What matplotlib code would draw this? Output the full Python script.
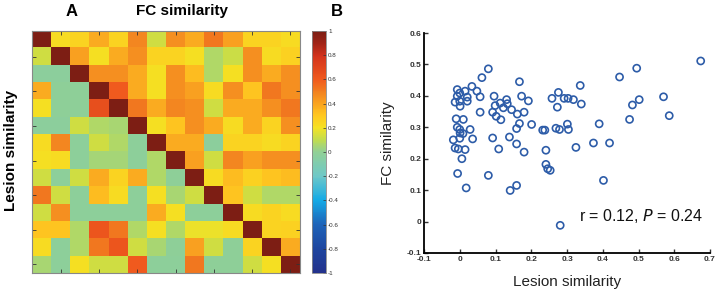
import numpy as np
import matplotlib
matplotlib.use("Agg")
import matplotlib.pyplot as plt
from matplotlib.colors import LinearSegmentedColormap

plt.rcParams["font.family"] = ["Liberation Sans", "DejaVu Sans"]

# Panel A: FC similarity / lesion similarity matrix (14 patients)
fc_matrix = [
    [1.00, .22, .25, .38, .25, .48, .13, .46, .38, .52, .41, .25, .25, .22],
    [.13, 1.00, .41, .21, .38, .46, .25, .25, .21, .07, .12, .46, .22, .26],
    [-.03, -.03, 1.00, .46, .46, .38, .21, .46, .33, .07, .21, .46, .38, .46],
    [.38, -.01, -.01, 1.00, .60, .38, .21, .46, .41, .22, .46, .31, .52, .46],
    [.21, -.01, -.01, .65, 1.00, .52, .38, .48, .46, .13, .38, .38, .46, .52],
    [-.03, -.03, .13, .07, .05, 1.00, .21, .31, .46, .38, .22, .38, .25, .46],
    [.22, .48, -.02, .13, .07, -.02, 1.00, .38, .38, -.03, .25, .25, .22, .25],
    [.21, .22, -.02, .04, .04, -.02, .07, 1.00, .41, .13, .48, .41, .46, .46],
    [.13, -.02, .13, .38, .25, .38, .07, -.01, 1.00, .22, .33, .26, .31, .33],
    [.52, .13, -.02, .33, .22, -.02, .21, .05, .13, 1.00, .31, .13, .07, .07],
    [.13, .46, -.02, -.02, -.02, -.02, .38, .21, -.02, -.02, 1.00, .22, .25, .22],
    [.31, .31, .07, .62, .52, .07, .21, .07, .18, .18, .22, 1.00, .25, .26],
    [.22, -.02, .07, .52, .62, .13, .05, -.01, .41, .13, -.01, .25, 1.00, .38],
    [.05, -.02, .21, .13, .13, .60, -.02, -.02, .52, -.01, -.01, .13, .21, 1.00],
]
cbar_ticks = [1, 0.8, 0.6, 0.4, 0.2, 0, -0.2, -0.4, -0.6, -0.8, -1]
cbar_labels = ["1", "0.8", "0.6", "0.4", "0.2", "0", "-0.2", "-0.4", "-0.6", "-0.8", "-1"]

# Panel B: lesion similarity vs FC similarity
lesion_sim = [
    -0.007, 0.015, 0.000, -0.007, 0.021, -0.013, 0.000, 0.021, 0.001, 0.034,
    0.048, 0.057, 0.062, 0.080, 0.057, -0.010, 0.010, -0.007, 0.000, 0.029,
    0.001, 0.009, -0.018, 0.000, 0.036, -0.013, -0.004, 0.015, 0.006, -0.006,
    0.018,
    0.096, 0.099, 0.092, 0.102, 0.115, 0.092, 0.109, 0.080, 0.113, 0.131,
    0.133, 0.122, 0.145, 0.167, 0.173, 0.192, 0.180, 0.161, 0.167, 0.159,
    0.139, 0.201, 0.159, 0.180, 0.159, 0.141,
    0.232, 0.238, 0.241, 0.241, 0.246, 0.253, 0.258, 0.276, 0.292, 0.303,
    0.318, 0.273, 0.269, 0.279, 0.301, 0.304, 0.337, 0.340, 0.325, 0.281,
    0.374, 0.390, 0.419, 0.402, 0.447, 0.475, 0.483, 0.495, 0.502, 0.570,
    0.586, 0.674,
]
fc_sim = [
    0.420, 0.415, 0.409, 0.399, 0.396, 0.380, 0.383, 0.383, 0.367, 0.430,
    0.415, 0.397, 0.458, 0.486, 0.348, 0.327, 0.325, 0.300, 0.293, 0.293,
    0.282, 0.280, 0.260, 0.265, 0.263, 0.234, 0.231, 0.229, 0.200, 0.153,
    0.107,
    0.399, 0.369, 0.348, 0.335, 0.324, 0.266, 0.231, 0.147, 0.377, 0.388,
    0.375, 0.362, 0.356, 0.445, 0.399, 0.384, 0.348, 0.342, 0.312, 0.296,
    0.269, 0.309, 0.247, 0.221, 0.115, 0.099,
    0.291, 0.291, 0.227, 0.182, 0.168, 0.163, 0.392, 0.411, 0.392, 0.392,
    0.388, 0.364, 0.297, 0.293, 0.310, 0.293, 0.433, 0.374, 0.236, -0.012,
    0.250, 0.311, 0.250, 0.131, 0.460, 0.325, 0.371, 0.488, 0.388, 0.397,
    0.337, 0.511,
]

# jet-like colormap as printed (somewhat washed out), sampled from the colorbar
cmap_stops = [
    (-1.0, (35, 50, 140)), (-0.8, (30, 70, 160)), (-0.6, (30, 100, 185)),
    (-0.4, (20, 170, 230)), (-0.2, (110, 200, 200)), (0.0, (145, 208, 150)),
    (0.1, (192, 220, 80)), (0.2, (245, 226, 35)), (0.3, (255, 200, 32)),
    (0.4, (250, 165, 32)), (0.5, (242, 128, 32)), (0.6, (240, 90, 30)),
    (0.8, (210, 50, 28)), (0.9, (160, 35, 22)), (1.0, (125, 30, 20)),
]
cmap = LinearSegmentedColormap.from_list(
    "printed_jet",
    [((v + 1) / 2, tuple(c / 255 for c in rgb)) for v, rgb in cmap_stops])

fig = plt.figure(figsize=(7.2, 3.01), dpi=100)

# --- heatmap ---
ax1 = fig.add_axes([32 / 720, 1 - 273 / 301, 268 / 720, 242 / 301])
im = ax1.imshow(np.array(fc_matrix), cmap=cmap, vmin=-1, vmax=1,
                aspect="auto", interpolation="nearest")
ticks = list(range(1, 14, 2))
ax1.set_xticks(ticks)
ax1.set_yticks(ticks)
ax1.set_xticklabels([])
ax1.set_yticklabels([])
ax1.tick_params(direction="in", length=3, width=0.6, top=True, right=True,
                color="#333333")
for sp in ax1.spines.values():
    sp.set_color("#888888")
    sp.set_linewidth(0.8)

# --- colorbar ---
cax = fig.add_axes([312 / 720, 1 - 273 / 301, 14 / 720, 242 / 301])
cb = fig.colorbar(im, cax=cax, ticks=cbar_ticks)
cb.ax.set_yticklabels(cbar_labels)
cb.ax.tick_params(direction="in", length=2, width=0.5, labelsize=4.5,
                  pad=1.5, colors="#333333")
cb.outline.set_linewidth(0.6)
cb.outline.set_edgecolor("#888888")

fig.text(72 / 720, 1 - 11 / 301, "A", fontsize=12, fontweight="bold",
         ha="center", va="center")
fig.text(182 / 720, 1 - 11 / 301, "FC similarity", fontsize=11,
         fontweight="bold", ha="center", va="center")
fig.text(337 / 720, 1 - 11 / 301, "B", fontsize=12, fontweight="bold",
         ha="center", va="center")
fig.text(11 / 720, 1 - 150 / 301, "Lesion similarity", fontsize=11,
         fontweight="bold", rotation=90, ha="center", va="center")

# --- scatter ---
ax2 = fig.add_axes([424 / 720, 1 - 253 / 301, 286 / 720, 220 / 301])
ax2.scatter(lesion_sim, fc_sim, s=26, facecolors="none",
            edgecolors="#2d5ca8", linewidths=1.2)
ax2.set_xlim(-0.1, 0.7)
ax2.set_ylim(-0.1, 0.6)
ax2.set_xticks(np.arange(-0.1, 0.71, 0.1))
ax2.set_yticks(np.arange(-0.1, 0.61, 0.1))
ax2.set_xticklabels(["-0.1", "0", "0.1", "0.2", "0.3", "0.4", "0.5", "0.6", "0.7"])
ax2.set_yticklabels(["-0.1", "0", "0.1", "0.2", "0.3", "0.4", "0.5", "0.6"])
for lab in ax2.get_xticklabels() + ax2.get_yticklabels():
    lab.set_fontweight("bold")
ax2.tick_params(direction="in", length=3, width=1, labelsize=6,
                colors="#333333", pad=2)
ax2.spines["top"].set_visible(False)
ax2.spines["right"].set_visible(False)
ax2.spines["left"].set_linewidth(1.3)
ax2.spines["bottom"].set_linewidth(1.3)
ax2.set_xlabel("Lesion similarity", fontsize=11, labelpad=9, color="#222222")
ax2.set_ylabel("FC similarity", fontsize=11, labelpad=8, color="#222222")
ax2.text(0.333, 0.018, "r = 0.12, $\\mathit{P}$ = 0.24", fontsize=11.5,
         ha="left", va="center", color="#111111")

fig.savefig("out.png", dpi=100)
